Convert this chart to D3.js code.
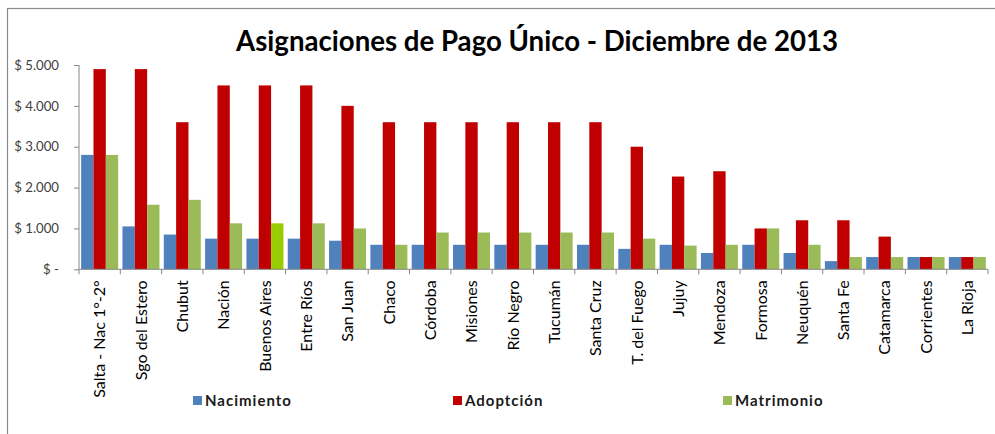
<!DOCTYPE html>
<html>
<head>
<meta charset="utf-8">
<script src="https://cdn.jsdelivr.net/npm/d3@7"></script>
<style>
  html, body { margin: 0; padding: 0; background: #fff; }
  svg { display: block; }
</style>
</head>
<body>
<svg id="chart" width="995" height="434"></svg>
<script>
const categories = ["Salta - Nac 1°-2°", "Sgo del Estero", "Chubut", "Nación", "Buenos Aires", "Entre Ríos", "San Juan", "Chaco", "Córdoba", "Misiones", "Río Negro", "Tucumán", "Santa Cruz", "T. del Fuego", "Jujuy", "Mendoza", "Formosa", "Neuquén", "Santa Fe", "Catamarca", "Corrientes", "La Rioja"];
const seriesNames = ["Nacimiento", "Adoptción", "Matrimonio"];
const nacimiento = [2800, 1050, 850, 750, 750, 750, 700, 600, 600, 600, 600, 600, 600, 500, 600, 400, 600, 400, 200, 300, 300, 300];
const adopcion   = [4900, 4900, 3600, 4500, 4500, 4500, 4000, 3600, 3600, 3600, 3600, 3600, 3600, 3000, 2270, 2400, 1000, 1200, 1200, 800, 300, 300];
const matrimonio = [2800, 1580, 1700, 1125, 1125, 1125, 1000, 600, 900, 900, 900, 900, 900, 750, 580, 600, 1000, 600, 300, 300, 300, 300];
const yTicks = [0, 1000, 2000, 3000, 4000, 5000];
const yTickLabels = ["$ -", "$ 1.000", "$ 2.000", "$ 3.000", "$ 4.000", "$ 5.000"];
const title = "Asignaciones de Pago Único - Diciembre de 2013";

const colors = {"Nacimiento": "#4F81BD", "Adoptción": "#C00000", "Matrimonio": "#9BBB59"};
const highlight = {cat: "Buenos Aires", series: "Matrimonio", color: "#99CC00"};

const values = {"Nacimiento": nacimiento, "Adoptción": adopcion, "Matrimonio": matrimonio};
const svg = d3.select("#chart");
const font = "Lato, 'Open Sans', sans-serif";

// frame
svg.append("rect").attr("x", 7.5).attr("y", 8.5).attr("width", 1100).attr("height", 500)
  .attr("fill", "none").attr("stroke", "#8a8a8a").attr("stroke-width", 1.2);

const x = d3.scaleBand().domain(categories).range([79, 988]).paddingInner(0).paddingOuter(0);
const xs = d3.scaleBand().domain(seriesNames).range([0, x.bandwidth()]).paddingInner(0).paddingOuter(0.175);
const y = d3.scaleLinear().domain([0, 5000]).range([269.3, 65]);

// bars
const data = [];
categories.forEach((c, i) => seriesNames.forEach(s => data.push({c, s, v: values[s][i]})));
svg.append("g").selectAll("rect").data(data).join("rect")
  .attr("x", d => x(d.c) + xs(d.s))
  .attr("y", d => y(d.v))
  .attr("width", xs.bandwidth())
  .attr("height", d => y(0) - y(d.v))
  .attr("fill", d => (d.c === highlight.cat && d.s === highlight.series) ? highlight.color : colors[d.s]);

// y axis
const yAxis = d3.axisLeft(y).tickValues(yTicks).tickSize(5).tickPadding(15)
  .tickFormat((d, i) => yTickLabels[i]);
const gy = svg.append("g").attr("transform", "translate(79,0)").call(yAxis);
gy.select(".domain").attr("stroke", "#888").attr("d", `M0,${y(5000)}V${y(0)}`);
gy.selectAll(".tick line").attr("stroke", "#888");
gy.selectAll(".tick text").attr("font-family", font).attr("font-size", 13.2).attr("fill", "#404040");

// x axis
const gx = svg.append("g");
gx.append("line").attr("x1", 79).attr("x2", 988).attr("y1", y(0)).attr("y2", y(0)).attr("stroke", "#888");
const bounds = categories.map(c => x(c)).concat([x.range()[1]]);
gx.selectAll("line.t").data(bounds).join("line").attr("class", "t")
  .attr("x1", d => d).attr("x2", d => d).attr("y1", y(0)).attr("y2", y(0) + 5).attr("stroke", "#888");
gx.selectAll("text").data(categories).join("text")
  .attr("transform", d => `translate(${x(d) + x.bandwidth() / 2},${y(0) + 11}) rotate(-90)`)
  .attr("text-anchor", "end").attr("dy", "0.36em")
  .attr("font-family", font).attr("font-size", 16).attr("fill", "#000")
  .text(d => d);

// title
const t = svg.append("text").attr("x", 537).attr("y", 51).attr("text-anchor", "middle")
  .attr("font-family", font).attr("font-weight", "bold").attr("font-size", 26).attr("fill", "#000")
  .text(title);
const tw = t.node().getComputedTextLength();
if (tw > 0) t.attr("font-size", 26 * 602 / tw);

// legend
const legendX = [193, 453, 723];
const lg = svg.append("g");
seriesNames.forEach((s, i) => {
  lg.append("rect").attr("x", legendX[i]).attr("y", 396).attr("width", 9).attr("height", 9).attr("fill", colors[s]);
  lg.append("text").attr("x", legendX[i] + 12).attr("y", 406)
    .attr("font-family", font).attr("font-weight", "bold").attr("font-size", 15).attr("fill", "#1a1a1a")
    .attr("letter-spacing", 1)
    .text(s);
});
</script>
</body>
</html>
